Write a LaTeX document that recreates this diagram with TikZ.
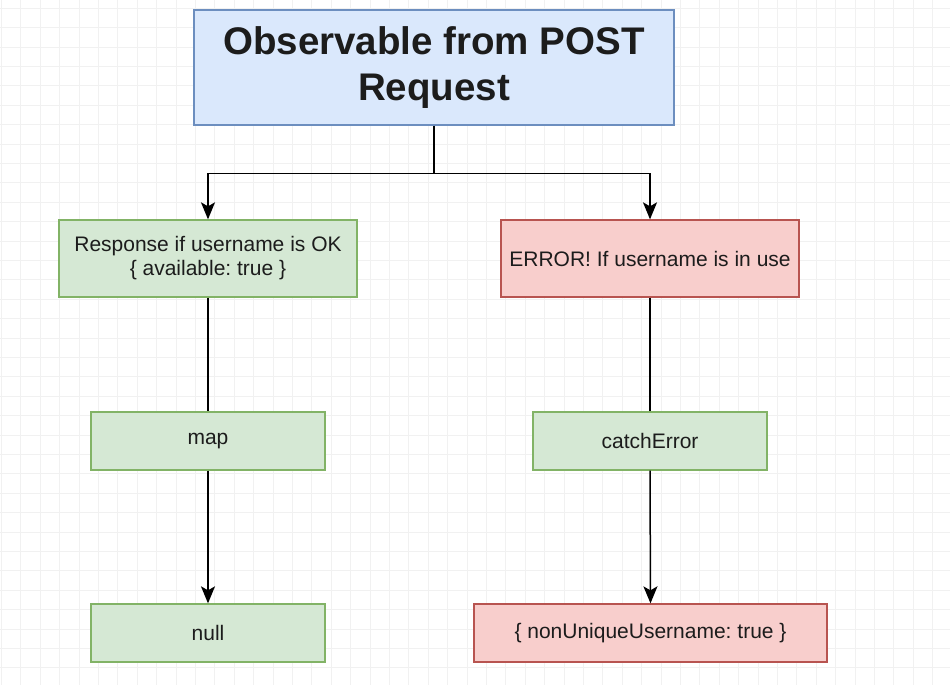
\documentclass[tikz,border=0pt]{standalone}
\usepackage{fontspec}
\setmainfont{Liberation Sans}
\usetikzlibrary{arrows.meta}
\frenchspacing

\definecolor{blueFill}{HTML}{DAE8FC}
\definecolor{blueLine}{HTML}{6C8EBF}
\definecolor{greenFill}{HTML}{D5E8D4}
\definecolor{greenLine}{HTML}{82B366}
\definecolor{redFill}{HTML}{F8CECC}
\definecolor{redLine}{HTML}{B85450}
\definecolor{gridGray}{HTML}{F1F1F1}
\definecolor{textDark}{HTML}{1C1C1C}

\begin{document}
\begin{tikzpicture}[
	x=1pt, y=-1pt,
	gridline/.style={gridGray, line width=1pt},
	box/.style={draw, line width=1.3pt, inner sep=0pt, align=center,
		text=textDark, font=\fontsize{21}{24}\selectfont},
	bluebox/.style={box, fill=blueFill, draw=blueLine},
	greenbox/.style={box, fill=greenFill, draw=greenLine},
	redbox/.style={box, fill=redFill, draw=redLine},
	link/.style={line width=1.5pt, black},
	flow/.style={link, -{Stealth[length=17pt, width=14pt, inset=4pt]}}]

	\def\gridstep{19.4}

	% canvas and grid
	\fill[white] (0,0) rectangle (950,685);
	\useasboundingbox (0,0) rectangle (950,685);
	\foreach \i in {0,...,49}
		\draw[gridline] ({1.5+\gridstep*\i},0) -- ++(0,685);
	\foreach \j in {0,...,35}
		\draw[gridline] (0,{8.3+\gridstep*\j}) -- ++(950,0);

	% source
	\node[bluebox, minimum width=480pt, minimum height=115pt,
		font=\fontsize{38.5}{45}\selectfont\bfseries] (post) at (434,67.5)
		{Observable from POST\\[1pt]Request};

	% two outcomes
	\node[greenbox, minimum width=298pt, minimum height=77pt] (ok) at (208,258.5)
		{Response if username is OK\\\{ available: true \}};
	\node[redbox, minimum width=298pt, minimum height=77pt] (err) at (650,258.5)
		{ERROR! If username is in use};

	% operators
	\node[greenbox, minimum width=234pt, minimum height=58pt] (map) at (208,441) {map};
	\node[greenbox, minimum width=234pt, minimum height=58pt] (catch) at (650,441) {catchError};

	% results
	\node[greenbox, minimum width=234pt, minimum height=58pt] (null) at (208,633) {null};
	\node[redbox, minimum width=353pt, minimum height=58pt] (unique) at (650.5,633)
		{\{ nonUniqueUsername: true \}};

	\path (post.south) ++(0,48) coordinate (split);

	\draw[link] (post.south) -- (split);
	\draw[flow] (split) -| (ok.north);
	\draw[flow] (split) -| (err.north);

	\draw[link] (ok.south) -- (map.north);
	\draw[link] (err.south) -- (catch.north);

	\draw[flow] (map.south) -- (null.north);
	\draw[flow] (catch.south) -- (unique.north);

\end{tikzpicture}
\end{document}
